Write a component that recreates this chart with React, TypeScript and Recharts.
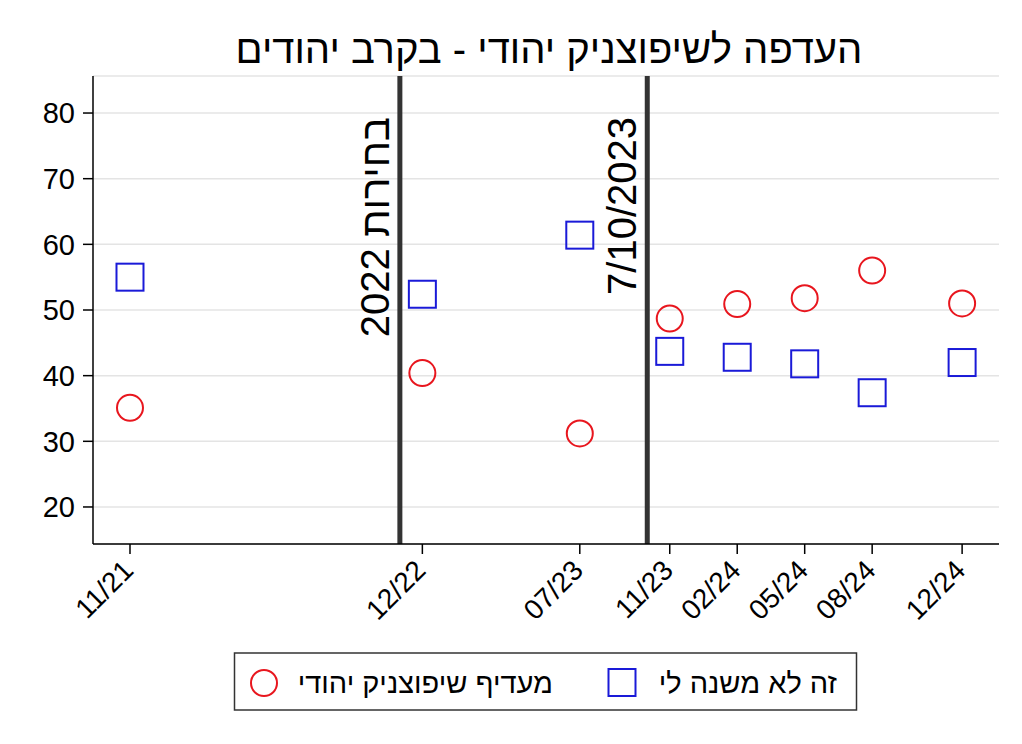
import React from 'react';
import { ScatterChart, Scatter, XAxis, YAxis, CartesianGrid, ReferenceLine } from 'recharts';

// months since 11/2021
const monthIndex = [0, 13, 20, 24, 27, 30, 33, 37];
const tickLabels = ['11/21', '12/22', '07/23', '11/23', '02/24', '05/24', '08/24', '12/24'];
const preferJewish = [35.1, 40.4, 31.2, 48.7, 50.9, 51.8, 56.0, 51.0];
const doesntMatter = [55.0, 52.4, 61.4, 43.7, 42.8, 41.8, 37.4, 42.0];
const eventMonths = [12, 23];
const eventLabels = ['בחירות 2022', '7/10/2023'];
const yTicks = [20, 30, 40, 50, 60, 70, 80];

const titleText = 'העדפה לשיפוצניק יהודי - בקרב יהודים';
const legendPrefer = 'מעדיף שיפוצניק יהודי';
const legendNoMatter = 'זה לא משנה לי';

const FONT = '"Liberation Sans", Arial, sans-serif';
const RED = '#e8161e';
const BLUE = '#1a1ad8';

const preferData = monthIndex.map((m, i) => ({ x: m, y: preferJewish[i] }));
const noMatterData = monthIndex.map((m, i) => ({ x: m, y: doesntMatter[i] }));

const CircleShape = (props: any) => {
  const { cx, cy } = props;
  if (cx == null || cy == null) return null;
  return <circle cx={cx} cy={cy} r={13} fill="none" stroke={RED} strokeWidth={2} />;
};

const SquareShape = (props: any) => {
  const { cx, cy } = props;
  if (cx == null || cy == null) return null;
  return <rect x={cx - 13.5} y={cy - 13.5} width={27} height={27} fill="none" stroke={BLUE} strokeWidth={2} />;
};

const XTick = (props: any) => {
  const { x, payload } = props;
  const idx = monthIndex.indexOf(payload.value);
  const label = idx >= 0 ? tickLabels[idx] : '';
  const px = x + 5;
  const py = 572;
  return (
    <text
      x={px}
      y={py}
      transform={`rotate(-45, ${px}, ${py})`}
      textAnchor="end"
      fontSize={28}
      fontFamily={FONT}
      fill="#000"
    >
      {label}
    </text>
  );
};

const EventLabel = (props: any) => {
  const { viewBox, text } = props;
  if (!viewBox) return null;
  const px = viewBox.x - 11;
  const py = viewBox.y + 41;
  return (
    <text
      x={px}
      y={py}
      transform={`rotate(-90, ${px}, ${py})`}
      textAnchor="end"
      fontSize={40}
      fontFamily={FONT}
      fill="#000"
    >
      {text}
    </text>
  );
};

export default function App() {
  return (
    <div
      style={{
        position: 'absolute',
        left: 0,
        top: 0,
        width: 1022,
        height: 744,
        background: '#fff',
        fontFamily: FONT,
      }}
    >
      <ScatterChart
        width={1022}
        height={744}
        margin={{ top: 76, right: 23, left: 0, bottom: 80 }}
        style={{ fontFamily: FONT }}
      >
        <CartesianGrid vertical={false} stroke="#e4e4e4" strokeWidth={1.5} />
        <XAxis
          type="number"
          dataKey="x"
          domain={[-1.645, 38.64]}
          ticks={monthIndex}
          allowDataOverflow
          height={120}
          tickSize={10}
          tickMargin={0}
          interval={0}
          axisLine={{ stroke: '#000', strokeWidth: 1.5 }}
          tickLine={{ stroke: '#000', strokeWidth: 1.5 }}
          tick={<XTick />}
        />
        <YAxis
          type="number"
          dataKey="y"
          domain={[14.36, 85.64]}
          ticks={yTicks}
          allowDataOverflow
          width={93}
          tickSize={10}
          tickMargin={8}
          interval={0}
          axisLine={{ stroke: '#000', strokeWidth: 1.5 }}
          tickLine={{ stroke: '#000', strokeWidth: 1.5 }}
          tick={{ fontSize: 29, fill: '#000', fontFamily: FONT }}
        />
        {eventMonths.map((m, i) => (
          <ReferenceLine
            key={m}
            x={m}
            stroke="#333"
            strokeWidth={5}
            label={<EventLabel text={eventLabels[i]} />}
          />
        ))}
        <Scatter data={noMatterData} shape={<SquareShape />} isAnimationActive={false} />
        <Scatter data={preferData} shape={<CircleShape />} isAnimationActive={false} />
      </ScatterChart>
      <svg
        width={1022}
        height={744}
        style={{ position: 'absolute', left: 0, top: 0, pointerEvents: 'none' }}
      >
        <text x={549} y={63} textAnchor="middle" fontSize={40} fontFamily={FONT} fill="#000">
          {titleText}
        </text>
        <rect x={234.5} y={653} width={622} height={57} fill="none" stroke="#333" strokeWidth={1.5} />
        <circle cx={264} cy={683} r={13} fill="none" stroke={RED} strokeWidth={2} />
        <text x={553} y={693} textAnchor="end" fontSize={29} fontFamily={FONT} fill="#000">
          {legendPrefer}
        </text>
        <rect x={608.5} y={669} width={27} height={27} fill="none" stroke={BLUE} strokeWidth={2} />
        <text x={837} y={693} textAnchor="end" fontSize={29} fontFamily={FONT} fill="#000">
          {legendNoMatter}
        </text>
      </svg>
    </div>
  );
}
